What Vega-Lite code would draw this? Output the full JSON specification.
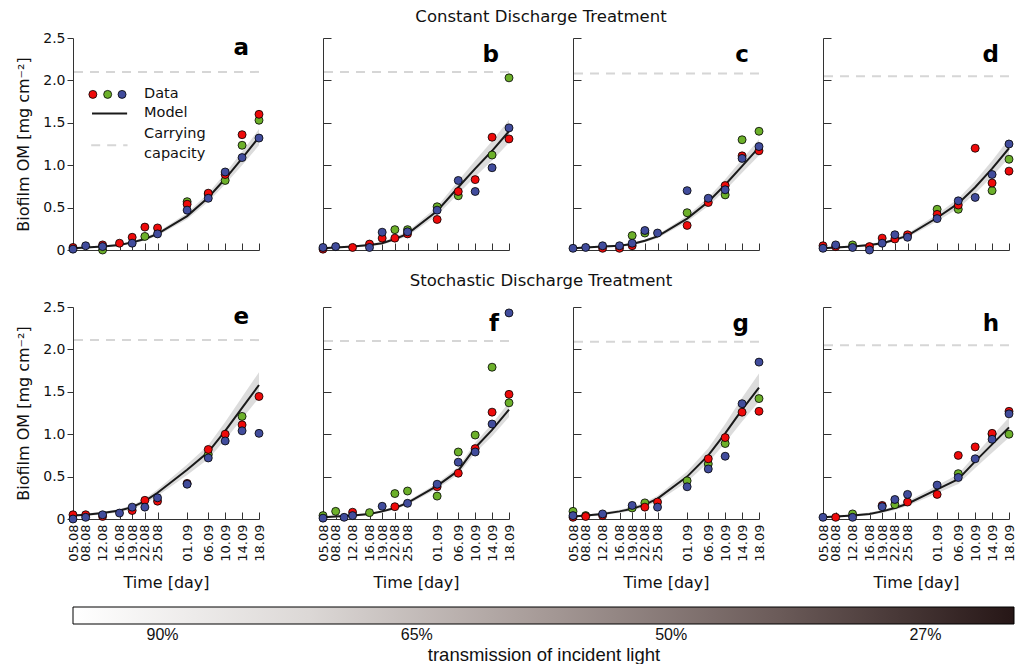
{
"$schema":"https://vega.github.io/schema/vega-lite/v6.json",
"background":"white",
"padding":{"left":15,"top":8,"right":0,"bottom":0},
"autosize":{"type":"pad"},
"config":{
 "font":"DejaVu Sans",
 "view":{"stroke":null},
 "axis":{"grid":false,"domainColor":"#333","tickColor":"#333","labelColor":"#111","titleColor":"#111","labelFont":"DejaVu Sans","titleFont":"DejaVu Sans","titleFontWeight":"normal","domainWidth":1,"tickWidth":1,"labelOverlap":false,"labelFlush":false,"labelBound":false}
},
"datasets":{
"cap":[{"panel":"a","K":2.10},{"panel":"b","K":2.10},{"panel":"c","K":2.08},{"panel":"d","K":2.05},{"panel":"e","K":2.11},{"panel":"f","K":2.10},{"panel":"g","K":2.09},{"panel":"h","K":2.05}],
"model":[
{"panel":"a","day":0,"fit":0.02,"lo":0.009,"hi":0.031},{"panel":"a","day":3,"fit":0.03,"lo":0.018,"hi":0.042},{"panel":"a","day":7,"fit":0.04,"lo":0.027,"hi":0.053},{"panel":"a","day":11,"fit":0.06,"lo":0.046,"hi":0.074},{"panel":"a","day":14,"fit":0.09,"lo":0.074,"hi":0.106},{"panel":"a","day":17,"fit":0.13,"lo":0.111,"hi":0.149},{"panel":"a","day":20,"fit":0.19,"lo":0.168,"hi":0.212},{"panel":"a","day":27,"fit":0.40,"lo":0.364,"hi":0.436},{"panel":"a","day":32,"fit":0.62,"lo":0.570,"hi":0.670},{"panel":"a","day":36,"fit":0.84,"lo":0.775,"hi":0.905},{"panel":"a","day":40,"fit":1.08,"lo":1.000,"hi":1.160},{"panel":"a","day":44,"fit":1.33,"lo":1.234,"hi":1.426},
{"panel":"b","day":0,"fit":0.02,"lo":0.008,"hi":0.032},{"panel":"b","day":3,"fit":0.03,"lo":0.017,"hi":0.043},{"panel":"b","day":7,"fit":0.04,"lo":0.026,"hi":0.054},{"panel":"b","day":11,"fit":0.06,"lo":0.045,"hi":0.075},{"panel":"b","day":14,"fit":0.08,"lo":0.063,"hi":0.097},{"panel":"b","day":17,"fit":0.13,"lo":0.108,"hi":0.152},{"panel":"b","day":20,"fit":0.19,"lo":0.163,"hi":0.217},{"panel":"b","day":27,"fit":0.46,"lo":0.409,"hi":0.511},{"panel":"b","day":32,"fit":0.74,"lo":0.663,"hi":0.817},{"panel":"b","day":36,"fit":0.96,"lo":0.864,"hi":1.056},{"panel":"b","day":40,"fit":1.17,"lo":1.055,"hi":1.285},{"panel":"b","day":44,"fit":1.40,"lo":1.264,"hi":1.536},
{"panel":"c","day":0,"fit":0.02,"lo":0.009,"hi":0.031},{"panel":"c","day":3,"fit":0.03,"lo":0.018,"hi":0.042},{"panel":"c","day":7,"fit":0.04,"lo":0.027,"hi":0.053},{"panel":"c","day":11,"fit":0.05,"lo":0.036,"hi":0.064},{"panel":"c","day":14,"fit":0.07,"lo":0.055,"hi":0.085},{"panel":"c","day":17,"fit":0.11,"lo":0.092,"hi":0.128},{"panel":"c","day":20,"fit":0.16,"lo":0.139,"hi":0.181},{"panel":"c","day":27,"fit":0.37,"lo":0.334,"hi":0.406},{"panel":"c","day":32,"fit":0.57,"lo":0.520,"hi":0.620},{"panel":"c","day":36,"fit":0.77,"lo":0.706,"hi":0.834},{"panel":"c","day":40,"fit":0.99,"lo":0.911,"hi":1.069},{"panel":"c","day":44,"fit":1.21,"lo":1.115,"hi":1.305},
{"panel":"d","day":0,"fit":0.02,"lo":0.008,"hi":0.032},{"panel":"d","day":3,"fit":0.03,"lo":0.017,"hi":0.043},{"panel":"d","day":7,"fit":0.04,"lo":0.027,"hi":0.053},{"panel":"d","day":11,"fit":0.06,"lo":0.045,"hi":0.075},{"panel":"d","day":14,"fit":0.08,"lo":0.063,"hi":0.097},{"panel":"d","day":17,"fit":0.12,"lo":0.100,"hi":0.140},{"panel":"d","day":20,"fit":0.17,"lo":0.146,"hi":0.194},{"panel":"d","day":27,"fit":0.38,"lo":0.338,"hi":0.422},{"panel":"d","day":32,"fit":0.55,"lo":0.493,"hi":0.607},{"panel":"d","day":36,"fit":0.74,"lo":0.667,"hi":0.813},{"panel":"d","day":40,"fit":0.96,"lo":0.868,"hi":1.052},{"panel":"d","day":44,"fit":1.20,"lo":1.088,"hi":1.312},
{"panel":"e","day":0,"fit":0.04,"lo":0.026,"hi":0.054},{"panel":"e","day":3,"fit":0.05,"lo":0.036,"hi":0.064},{"panel":"e","day":7,"fit":0.07,"lo":0.054,"hi":0.086},{"panel":"e","day":11,"fit":0.10,"lo":0.081,"hi":0.119},{"panel":"e","day":14,"fit":0.14,"lo":0.117,"hi":0.163},{"panel":"e","day":17,"fit":0.21,"lo":0.181,"hi":0.239},{"panel":"e","day":20,"fit":0.31,"lo":0.272,"hi":0.348},{"panel":"e","day":27,"fit":0.58,"lo":0.518,"hi":0.642},{"panel":"e","day":32,"fit":0.79,"lo":0.709,"hi":0.871},{"panel":"e","day":36,"fit":1.04,"lo":0.936,"hi":1.144},{"panel":"e","day":40,"fit":1.31,"lo":1.182,"hi":1.438},{"panel":"e","day":44,"fit":1.58,"lo":1.428,"hi":1.732},
{"panel":"f","day":0,"fit":0.02,"lo":0.009,"hi":0.031},{"panel":"f","day":3,"fit":0.03,"lo":0.018,"hi":0.042},{"panel":"f","day":7,"fit":0.04,"lo":0.028,"hi":0.052},{"panel":"f","day":11,"fit":0.06,"lo":0.046,"hi":0.074},{"panel":"f","day":14,"fit":0.09,"lo":0.075,"hi":0.105},{"panel":"f","day":17,"fit":0.13,"lo":0.112,"hi":0.148},{"panel":"f","day":20,"fit":0.19,"lo":0.169,"hi":0.211},{"panel":"f","day":27,"fit":0.39,"lo":0.357,"hi":0.423},{"panel":"f","day":32,"fit":0.57,"lo":0.526,"hi":0.614},{"panel":"f","day":36,"fit":0.84,"lo":0.780,"hi":0.900},{"panel":"f","day":40,"fit":1.05,"lo":0.977,"hi":1.123},{"panel":"f","day":44,"fit":1.29,"lo":1.203,"hi":1.377},
{"panel":"g","day":0,"fit":0.03,"lo":0.017,"hi":0.043},{"panel":"g","day":3,"fit":0.04,"lo":0.026,"hi":0.054},{"panel":"g","day":7,"fit":0.06,"lo":0.044,"hi":0.076},{"panel":"g","day":11,"fit":0.09,"lo":0.071,"hi":0.109},{"panel":"g","day":14,"fit":0.12,"lo":0.098,"hi":0.142},{"panel":"g","day":17,"fit":0.17,"lo":0.143,"hi":0.197},{"panel":"g","day":20,"fit":0.24,"lo":0.206,"hi":0.274},{"panel":"g","day":27,"fit":0.50,"lo":0.440,"hi":0.560},{"panel":"g","day":32,"fit":0.75,"lo":0.665,"hi":0.835},{"panel":"g","day":36,"fit":1.01,"lo":0.899,"hi":1.121},{"panel":"g","day":40,"fit":1.29,"lo":1.151,"hi":1.429},{"panel":"g","day":44,"fit":1.55,"lo":1.385,"hi":1.715},
{"panel":"h","day":0,"fit":0.02,"lo":0.008,"hi":0.032},{"panel":"h","day":3,"fit":0.03,"lo":0.017,"hi":0.043},{"panel":"h","day":7,"fit":0.04,"lo":0.026,"hi":0.054},{"panel":"h","day":11,"fit":0.06,"lo":0.044,"hi":0.076},{"panel":"h","day":14,"fit":0.09,"lo":0.071,"hi":0.109},{"panel":"h","day":17,"fit":0.13,"lo":0.107,"hi":0.153},{"panel":"h","day":20,"fit":0.18,"lo":0.152,"hi":0.208},{"panel":"h","day":27,"fit":0.35,"lo":0.305,"hi":0.395},{"panel":"h","day":32,"fit":0.47,"lo":0.413,"hi":0.527},{"panel":"h","day":36,"fit":0.68,"lo":0.602,"hi":0.758},{"panel":"h","day":40,"fit":0.88,"lo":0.782,"hi":0.978},{"panel":"h","day":44,"fit":1.08,"lo":0.962,"hi":1.198}
],
"obs":[
{"panel":"a","rep":"G","day":7,"om":0.0},{"panel":"a","rep":"G","day":17,"om":0.16},{"panel":"a","rep":"G","day":27,"om":0.57},{"panel":"a","rep":"G","day":32,"om":0.66},{"panel":"a","rep":"G","day":36,"om":0.82},{"panel":"a","rep":"G","day":40,"om":1.235},{"panel":"a","rep":"G","day":44,"om":1.53},
{"panel":"a","rep":"R","day":0,"om":0.03},{"panel":"a","rep":"R","day":7,"om":0.06},{"panel":"a","rep":"R","day":11,"om":0.08},{"panel":"a","rep":"R","day":14,"om":0.15},{"panel":"a","rep":"R","day":17,"om":0.27},{"panel":"a","rep":"R","day":20,"om":0.26},{"panel":"a","rep":"R","day":27,"om":0.54},{"panel":"a","rep":"R","day":32,"om":0.67},{"panel":"a","rep":"R","day":36,"om":0.89},{"panel":"a","rep":"R","day":40,"om":1.36},{"panel":"a","rep":"R","day":44,"om":1.60},
{"panel":"a","rep":"B","day":0,"om":0.01},{"panel":"a","rep":"B","day":3,"om":0.05},{"panel":"a","rep":"B","day":7,"om":0.04},{"panel":"a","rep":"B","day":14,"om":0.08},{"panel":"a","rep":"B","day":20,"om":0.19},{"panel":"a","rep":"B","day":27,"om":0.47},{"panel":"a","rep":"B","day":32,"om":0.61},{"panel":"a","rep":"B","day":36,"om":0.92},{"panel":"a","rep":"B","day":40,"om":1.09},{"panel":"a","rep":"B","day":44,"om":1.32},
{"panel":"b","rep":"G","day":17,"om":0.24},{"panel":"b","rep":"G","day":20,"om":0.24},{"panel":"b","rep":"G","day":27,"om":0.51},{"panel":"b","rep":"G","day":32,"om":0.64},{"panel":"b","rep":"G","day":40,"om":1.12},{"panel":"b","rep":"G","day":44,"om":2.03},
{"panel":"b","rep":"R","day":0,"om":0.01},{"panel":"b","rep":"R","day":7,"om":0.03},{"panel":"b","rep":"R","day":11,"om":0.07},{"panel":"b","rep":"R","day":14,"om":0.14},{"panel":"b","rep":"R","day":17,"om":0.14},{"panel":"b","rep":"R","day":20,"om":0.19},{"panel":"b","rep":"R","day":27,"om":0.36},{"panel":"b","rep":"R","day":32,"om":0.69},{"panel":"b","rep":"R","day":36,"om":0.83},{"panel":"b","rep":"R","day":40,"om":1.33},{"panel":"b","rep":"R","day":44,"om":1.31},
{"panel":"b","rep":"B","day":0,"om":0.03},{"panel":"b","rep":"B","day":3,"om":0.04},{"panel":"b","rep":"B","day":11,"om":0.03},{"panel":"b","rep":"B","day":14,"om":0.21},{"panel":"b","rep":"B","day":20,"om":0.215},{"panel":"b","rep":"B","day":27,"om":0.47},{"panel":"b","rep":"B","day":32,"om":0.82},{"panel":"b","rep":"B","day":36,"om":0.69},{"panel":"b","rep":"B","day":40,"om":0.97},{"panel":"b","rep":"B","day":44,"om":1.44},
{"panel":"c","rep":"G","day":14,"om":0.17},{"panel":"c","rep":"G","day":17,"om":0.20},{"panel":"c","rep":"G","day":27,"om":0.44},{"panel":"c","rep":"G","day":36,"om":0.65},{"panel":"c","rep":"G","day":40,"om":1.30},{"panel":"c","rep":"G","day":44,"om":1.40},
{"panel":"c","rep":"R","day":7,"om":0.02},{"panel":"c","rep":"R","day":11,"om":0.02},{"panel":"c","rep":"R","day":14,"om":0.05},{"panel":"c","rep":"R","day":27,"om":0.29},{"panel":"c","rep":"R","day":32,"om":0.56},{"panel":"c","rep":"R","day":36,"om":0.76},{"panel":"c","rep":"R","day":40,"om":1.11},{"panel":"c","rep":"R","day":44,"om":1.17},
{"panel":"c","rep":"B","day":0,"om":0.02},{"panel":"c","rep":"B","day":3,"om":0.03},{"panel":"c","rep":"B","day":7,"om":0.05},{"panel":"c","rep":"B","day":11,"om":0.05},{"panel":"c","rep":"B","day":14,"om":0.08},{"panel":"c","rep":"B","day":17,"om":0.23},{"panel":"c","rep":"B","day":20,"om":0.20},{"panel":"c","rep":"B","day":27,"om":0.70},{"panel":"c","rep":"B","day":32,"om":0.61},{"panel":"c","rep":"B","day":36,"om":0.71},{"panel":"c","rep":"B","day":40,"om":1.08},{"panel":"c","rep":"B","day":44,"om":1.22},
{"panel":"d","rep":"G","day":7,"om":0.06},{"panel":"d","rep":"G","day":27,"om":0.48},{"panel":"d","rep":"G","day":32,"om":0.48},{"panel":"d","rep":"G","day":40,"om":0.70},{"panel":"d","rep":"G","day":44,"om":1.07},
{"panel":"d","rep":"R","day":0,"om":0.05},{"panel":"d","rep":"R","day":3,"om":0.04},{"panel":"d","rep":"R","day":11,"om":0.04},{"panel":"d","rep":"R","day":14,"om":0.14},{"panel":"d","rep":"R","day":17,"om":0.13},{"panel":"d","rep":"R","day":20,"om":0.18},{"panel":"d","rep":"R","day":27,"om":0.42},{"panel":"d","rep":"R","day":32,"om":0.53},{"panel":"d","rep":"R","day":36,"om":1.20},{"panel":"d","rep":"R","day":40,"om":0.79},{"panel":"d","rep":"R","day":44,"om":0.93},
{"panel":"d","rep":"B","day":0,"om":0.02},{"panel":"d","rep":"B","day":3,"om":0.06},{"panel":"d","rep":"B","day":7,"om":0.03},{"panel":"d","rep":"B","day":11,"om":0.0},{"panel":"d","rep":"B","day":14,"om":0.08},{"panel":"d","rep":"B","day":17,"om":0.18},{"panel":"d","rep":"B","day":20,"om":0.15},{"panel":"d","rep":"B","day":27,"om":0.37},{"panel":"d","rep":"B","day":32,"om":0.58},{"panel":"d","rep":"B","day":36,"om":0.62},{"panel":"d","rep":"B","day":40,"om":0.89},{"panel":"d","rep":"B","day":44,"om":1.25},
{"panel":"e","rep":"G","day":32,"om":0.76},{"panel":"e","rep":"G","day":40,"om":1.21},
{"panel":"e","rep":"R","day":0,"om":0.05},{"panel":"e","rep":"R","day":3,"om":0.05},{"panel":"e","rep":"R","day":7,"om":0.03},{"panel":"e","rep":"R","day":14,"om":0.10},{"panel":"e","rep":"R","day":17,"om":0.22},{"panel":"e","rep":"R","day":20,"om":0.21},{"panel":"e","rep":"R","day":27,"om":0.42},{"panel":"e","rep":"R","day":32,"om":0.82},{"panel":"e","rep":"R","day":36,"om":1.00},{"panel":"e","rep":"R","day":40,"om":1.11},{"panel":"e","rep":"R","day":44,"om":1.445},
{"panel":"e","rep":"B","day":0,"om":0.0},{"panel":"e","rep":"B","day":3,"om":0.02},{"panel":"e","rep":"B","day":7,"om":0.05},{"panel":"e","rep":"B","day":11,"om":0.07},{"panel":"e","rep":"B","day":14,"om":0.14},{"panel":"e","rep":"B","day":17,"om":0.14},{"panel":"e","rep":"B","day":20,"om":0.25},{"panel":"e","rep":"B","day":27,"om":0.41},{"panel":"e","rep":"B","day":32,"om":0.72},{"panel":"e","rep":"B","day":36,"om":0.92},{"panel":"e","rep":"B","day":40,"om":1.04},{"panel":"e","rep":"B","day":44,"om":1.01},
{"panel":"f","rep":"R","day":7,"om":0.08},{"panel":"f","rep":"R","day":17,"om":0.145},{"panel":"f","rep":"R","day":27,"om":0.38},{"panel":"f","rep":"R","day":32,"om":0.54},{"panel":"f","rep":"R","day":36,"om":0.83},{"panel":"f","rep":"R","day":40,"om":1.26},{"panel":"f","rep":"R","day":44,"om":1.47},
{"panel":"f","rep":"G","day":0,"om":0.04},{"panel":"f","rep":"G","day":3,"om":0.09},{"panel":"f","rep":"G","day":11,"om":0.075},{"panel":"f","rep":"G","day":17,"om":0.30},{"panel":"f","rep":"G","day":20,"om":0.33},{"panel":"f","rep":"G","day":27,"om":0.27},{"panel":"f","rep":"G","day":32,"om":0.79},{"panel":"f","rep":"G","day":36,"om":0.99},{"panel":"f","rep":"G","day":40,"om":1.79},{"panel":"f","rep":"G","day":44,"om":1.37},
{"panel":"f","rep":"B","day":0,"om":0.01},{"panel":"f","rep":"B","day":5,"om":0.02},{"panel":"f","rep":"B","day":7,"om":0.04},{"panel":"f","rep":"B","day":14,"om":0.15},{"panel":"f","rep":"B","day":20,"om":0.185},{"panel":"f","rep":"B","day":27,"om":0.41},{"panel":"f","rep":"B","day":32,"om":0.67},{"panel":"f","rep":"B","day":36,"om":0.79},{"panel":"f","rep":"B","day":40,"om":1.12},{"panel":"f","rep":"B","day":44,"om":2.43},
{"panel":"g","rep":"G","day":0,"om":0.09},{"panel":"g","rep":"G","day":3,"om":0.04},{"panel":"g","rep":"G","day":14,"om":0.13},{"panel":"g","rep":"G","day":17,"om":0.19},{"panel":"g","rep":"G","day":27,"om":0.45},{"panel":"g","rep":"G","day":32,"om":0.65},{"panel":"g","rep":"G","day":36,"om":0.89},{"panel":"g","rep":"G","day":44,"om":1.42},
{"panel":"g","rep":"R","day":0,"om":0.02},{"panel":"g","rep":"R","day":3,"om":0.03},{"panel":"g","rep":"R","day":7,"om":0.04},{"panel":"g","rep":"R","day":17,"om":0.14},{"panel":"g","rep":"R","day":20,"om":0.20},{"panel":"g","rep":"R","day":32,"om":0.71},{"panel":"g","rep":"R","day":36,"om":0.96},{"panel":"g","rep":"R","day":40,"om":1.26},{"panel":"g","rep":"R","day":44,"om":1.27},
{"panel":"g","rep":"B","day":0,"om":0.04},{"panel":"g","rep":"B","day":7,"om":0.06},{"panel":"g","rep":"B","day":14,"om":0.16},{"panel":"g","rep":"B","day":20,"om":0.14},{"panel":"g","rep":"B","day":27,"om":0.38},{"panel":"g","rep":"B","day":32,"om":0.59},{"panel":"g","rep":"B","day":36,"om":0.74},{"panel":"g","rep":"B","day":40,"om":1.36},{"panel":"g","rep":"B","day":44,"om":1.85},
{"panel":"h","rep":"G","day":7,"om":0.06},{"panel":"h","rep":"G","day":17,"om":0.17},{"panel":"h","rep":"G","day":32,"om":0.535},{"panel":"h","rep":"G","day":40,"om":1.00},{"panel":"h","rep":"G","day":44,"om":1.00},
{"panel":"h","rep":"R","day":3,"om":0.02},{"panel":"h","rep":"R","day":14,"om":0.16},{"panel":"h","rep":"R","day":20,"om":0.20},{"panel":"h","rep":"R","day":27,"om":0.29},{"panel":"h","rep":"R","day":32,"om":0.75},{"panel":"h","rep":"R","day":36,"om":0.85},{"panel":"h","rep":"R","day":40,"om":1.01},{"panel":"h","rep":"R","day":44,"om":1.27},
{"panel":"h","rep":"B","day":0,"om":0.02},{"panel":"h","rep":"B","day":7,"om":0.02},{"panel":"h","rep":"B","day":14,"om":0.145},{"panel":"h","rep":"B","day":17,"om":0.23},{"panel":"h","rep":"B","day":20,"om":0.29},{"panel":"h","rep":"B","day":27,"om":0.40},{"panel":"h","rep":"B","day":32,"om":0.49},{"panel":"h","rep":"B","day":36,"om":0.71},{"panel":"h","rep":"B","day":40,"om":0.94},{"panel":"h","rep":"B","day":44,"om":1.24}
]
},
"spacing":15,
"vconcat":[
 {"bounds":"flush","spacing":64,
  "title":{"text":"Constant Discharge Treatment","anchor":"start","align":"center","dx":468,"frame":"group","fontSize":16.5,"fontWeight":"normal","font":"DejaVu Sans","color":"#111","offset":6},
  "hconcat":[
  {"width":186,"height":212,
   "title":{"text":"a","anchor":"end","frame":"group","fontSize":23,"fontWeight":"bold","font":"DejaVu Sans","color":"#000","offset":-29,"dx":-10},
   "layer":[
    {"data":{"name":"model"},"transform":[{"filter":"datum.panel == 'a'"}],"mark":{"type":"area","color":"#dcdcdc"},
     "encoding":{"x":{"field":"day","type":"quantitative","scale":{"domain":[0,44],"nice":false,"zero":false},"axis":{"values":[0,3,7,11,14,17,20,27,32,36,40,44],"tickCount":50,"labels":false,"title":null,"tickSize":-7}},
      "y":{"field":"lo","type":"quantitative","scale":{"domain":[0,2.5],"nice":false},"axis":{"values":[0,0.5,1,1.5,2,2.5],"tickCount":50,"labelExpr":"datum.value == 0 ? '0' : format(datum.value, '.1f')","labelOverlap":false,"labelFontSize":14,"labelPadding":2,"tickSize":6,"title":"Biofilm OM [mg cm⁻²]","titleFontSize":16,"titlePadding":11}},
      "y2":{"field":"hi"}}},
    {"data":{"name":"cap"},"transform":[{"filter":"datum.panel == 'a'"}],"mark":{"type":"rule","color":"#d6d6d6","strokeWidth":2,"strokeDash":[9,7]},
     "encoding":{"y":{"field":"K","type":"quantitative","scale":{"domain":[0,2.5],"nice":false}}}},
    {"data":{"name":"model"},"transform":[{"filter":"datum.panel == 'a'"}],"mark":{"type":"line","color":"#1a1a1a","strokeWidth":2},
     "encoding":{"x":{"field":"day","type":"quantitative","scale":{"domain":[0,44],"nice":false,"zero":false}},"y":{"field":"fit","type":"quantitative","scale":{"domain":[0,2.5],"nice":false}}}},
    {"data":{"name":"obs"},"transform":[{"filter":"datum.panel == 'a'"}],"mark":{"type":"circle","size":64,"stroke":"#000","strokeWidth":0.8,"opacity":1},
     "encoding":{"x":{"field":"day","type":"quantitative","scale":{"domain":[0,44],"nice":false,"zero":false}},"y":{"field":"om","type":"quantitative","scale":{"domain":[0,2.5],"nice":false}},
      "fill":{"field":"rep","type":"nominal","scale":{"domain":["R","G","B"],"range":["#ee0a0a","#6cb02a","#414c9c"]},"legend":null}}},
    {"data":{"values":[{"rep":"R","day":4.7},{"rep":"G","day":8.2},{"rep":"B","day":11.6}]},"mark":{"type":"circle","size":64,"stroke":"#000","strokeWidth":0.8,"opacity":1},
     "encoding":{"x":{"field":"day","type":"quantitative","scale":{"domain":[0,44],"nice":false,"zero":false}},"y":{"datum":1.835,"type":"quantitative","scale":{"domain":[0,2.5],"nice":false}},
      "fill":{"field":"rep","type":"nominal","scale":{"domain":["R","G","B"],"range":["#ee0a0a","#6cb02a","#414c9c"]},"legend":null}}},
    {"data":{"values":[{}]},"mark":{"type":"rule","color":"#1a1a1a","strokeWidth":2},
     "encoding":{"x":{"datum":4.5,"type":"quantitative","scale":{"domain":[0,44],"nice":false,"zero":false}},"x2":{"datum":12.8},"y":{"datum":1.61,"type":"quantitative","scale":{"domain":[0,2.5],"nice":false}}}},
    {"data":{"values":[{}]},"mark":{"type":"rule","color":"#d6d6d6","strokeWidth":2,"strokeDash":[9,7]},
     "encoding":{"x":{"datum":4.3,"type":"quantitative","scale":{"domain":[0,44],"nice":false,"zero":false}},"x2":{"datum":12.9},"y":{"datum":1.235,"type":"quantitative","scale":{"domain":[0,2.5],"nice":false}}}},
    {"data":{"values":[{"label":"Data","v":1.835},{"label":"Model","v":1.61},{"label":"Carrying","v":1.37},{"label":"capacity","v":1.13}]},"mark":{"type":"text","align":"left","baseline":"middle","fontSize":14.5,"font":"DejaVu Sans","color":"#111"},
     "encoding":{"x":{"datum":16.8,"type":"quantitative","scale":{"domain":[0,44],"nice":false,"zero":false}},"y":{"field":"v","type":"quantitative","scale":{"domain":[0,2.5],"nice":false}},"text":{"field":"label"}}}
   ]},
  {"width":186,"height":212,
   "title":{"text":"b","anchor":"end","frame":"group","fontSize":23,"fontWeight":"bold","font":"DejaVu Sans","color":"#000","offset":-29,"dx":-10},
   "layer":[
    {"data":{"name":"model"},"transform":[{"filter":"datum.panel == 'b'"}],"mark":{"type":"area","color":"#dcdcdc"},
     "encoding":{"x":{"field":"day","type":"quantitative","scale":{"domain":[0,44],"nice":false,"zero":false},"axis":{"values":[0,3,7,11,14,17,20,27,32,36,40,44],"tickCount":50,"labels":false,"title":null,"tickSize":-7}},
      "y":{"field":"lo","type":"quantitative","scale":{"domain":[0,2.5],"nice":false},"axis":{"values":[0,0.5,1,1.5,2,2.5],"tickCount":50,"labels":false,"title":null,"tickSize":-8}},
      "y2":{"field":"hi"}}},
    {"data":{"name":"cap"},"transform":[{"filter":"datum.panel == 'b'"}],"mark":{"type":"rule","color":"#d6d6d6","strokeWidth":2,"strokeDash":[9,7]},
     "encoding":{"y":{"field":"K","type":"quantitative","scale":{"domain":[0,2.5],"nice":false}}}},
    {"data":{"name":"model"},"transform":[{"filter":"datum.panel == 'b'"}],"mark":{"type":"line","color":"#1a1a1a","strokeWidth":2},
     "encoding":{"x":{"field":"day","type":"quantitative","scale":{"domain":[0,44],"nice":false,"zero":false}},"y":{"field":"fit","type":"quantitative","scale":{"domain":[0,2.5],"nice":false}}}},
    {"data":{"name":"obs"},"transform":[{"filter":"datum.panel == 'b'"}],"mark":{"type":"circle","size":64,"stroke":"#000","strokeWidth":0.8,"opacity":1},
     "encoding":{"x":{"field":"day","type":"quantitative","scale":{"domain":[0,44],"nice":false,"zero":false}},"y":{"field":"om","type":"quantitative","scale":{"domain":[0,2.5],"nice":false}},
      "fill":{"field":"rep","type":"nominal","scale":{"domain":["R","G","B"],"range":["#ee0a0a","#6cb02a","#414c9c"]},"legend":null}}}
   ]},
  {"width":186,"height":212,
   "title":{"text":"c","anchor":"end","frame":"group","fontSize":23,"fontWeight":"bold","font":"DejaVu Sans","color":"#000","offset":-29,"dx":-10},
   "layer":[
    {"data":{"name":"model"},"transform":[{"filter":"datum.panel == 'c'"}],"mark":{"type":"area","color":"#dcdcdc"},
     "encoding":{"x":{"field":"day","type":"quantitative","scale":{"domain":[0,44],"nice":false,"zero":false},"axis":{"values":[0,3,7,11,14,17,20,27,32,36,40,44],"tickCount":50,"labels":false,"title":null,"tickSize":-7}},
      "y":{"field":"lo","type":"quantitative","scale":{"domain":[0,2.5],"nice":false},"axis":{"values":[0,0.5,1,1.5,2,2.5],"tickCount":50,"labels":false,"title":null,"tickSize":-8}},
      "y2":{"field":"hi"}}},
    {"data":{"name":"cap"},"transform":[{"filter":"datum.panel == 'c'"}],"mark":{"type":"rule","color":"#d6d6d6","strokeWidth":2,"strokeDash":[9,7]},
     "encoding":{"y":{"field":"K","type":"quantitative","scale":{"domain":[0,2.5],"nice":false}}}},
    {"data":{"name":"model"},"transform":[{"filter":"datum.panel == 'c'"}],"mark":{"type":"line","color":"#1a1a1a","strokeWidth":2},
     "encoding":{"x":{"field":"day","type":"quantitative","scale":{"domain":[0,44],"nice":false,"zero":false}},"y":{"field":"fit","type":"quantitative","scale":{"domain":[0,2.5],"nice":false}}}},
    {"data":{"name":"obs"},"transform":[{"filter":"datum.panel == 'c'"}],"mark":{"type":"circle","size":64,"stroke":"#000","strokeWidth":0.8,"opacity":1},
     "encoding":{"x":{"field":"day","type":"quantitative","scale":{"domain":[0,44],"nice":false,"zero":false}},"y":{"field":"om","type":"quantitative","scale":{"domain":[0,2.5],"nice":false}},
      "fill":{"field":"rep","type":"nominal","scale":{"domain":["R","G","B"],"range":["#ee0a0a","#6cb02a","#414c9c"]},"legend":null}}}
   ]},
  {"width":186,"height":212,
   "title":{"text":"d","anchor":"end","frame":"group","fontSize":23,"fontWeight":"bold","font":"DejaVu Sans","color":"#000","offset":-29,"dx":-10},
   "layer":[
    {"data":{"name":"model"},"transform":[{"filter":"datum.panel == 'd'"}],"mark":{"type":"area","color":"#dcdcdc"},
     "encoding":{"x":{"field":"day","type":"quantitative","scale":{"domain":[0,44],"nice":false,"zero":false},"axis":{"values":[0,3,7,11,14,17,20,27,32,36,40,44],"tickCount":50,"labels":false,"title":null,"tickSize":-7}},
      "y":{"field":"lo","type":"quantitative","scale":{"domain":[0,2.5],"nice":false},"axis":{"values":[0,0.5,1,1.5,2,2.5],"tickCount":50,"labels":false,"title":null,"tickSize":-8}},
      "y2":{"field":"hi"}}},
    {"data":{"name":"cap"},"transform":[{"filter":"datum.panel == 'd'"}],"mark":{"type":"rule","color":"#d6d6d6","strokeWidth":2,"strokeDash":[9,7]},
     "encoding":{"y":{"field":"K","type":"quantitative","scale":{"domain":[0,2.5],"nice":false}}}},
    {"data":{"name":"model"},"transform":[{"filter":"datum.panel == 'd'"}],"mark":{"type":"line","color":"#1a1a1a","strokeWidth":2},
     "encoding":{"x":{"field":"day","type":"quantitative","scale":{"domain":[0,44],"nice":false,"zero":false}},"y":{"field":"fit","type":"quantitative","scale":{"domain":[0,2.5],"nice":false}}}},
    {"data":{"name":"obs"},"transform":[{"filter":"datum.panel == 'd'"}],"mark":{"type":"circle","size":64,"stroke":"#000","strokeWidth":0.8,"opacity":1},
     "encoding":{"x":{"field":"day","type":"quantitative","scale":{"domain":[0,44],"nice":false,"zero":false}},"y":{"field":"om","type":"quantitative","scale":{"domain":[0,2.5],"nice":false}},
      "fill":{"field":"rep","type":"nominal","scale":{"domain":["R","G","B"],"range":["#ee0a0a","#6cb02a","#414c9c"]},"legend":null}}}
   ]}
  ]},
 {"bounds":"flush","spacing":64,
  "title":{"text":"Stochastic Discharge Treatment","anchor":"start","align":"center","dx":468,"frame":"group","fontSize":16.5,"fontWeight":"normal","font":"DejaVu Sans","color":"#111","offset":11},
  "hconcat":[
  {"width":186,"height":212,
   "title":{"text":"e","anchor":"end","frame":"group","fontSize":23,"fontWeight":"bold","font":"DejaVu Sans","color":"#000","offset":-29,"dx":-10},
   "layer":[
    {"data":{"name":"model"},"transform":[{"filter":"datum.panel == 'e'"}],"mark":{"type":"area","color":"#dcdcdc"},
     "encoding":{"x":{"field":"day","type":"quantitative","scale":{"domain":[0,44],"nice":false,"zero":false},"axis":{"values":[0,3,7,11,14,17,20,27,32,36,40,44],"tickCount":50,"labelExpr":"['05.08','08.08','12.08','16.08','19.08','22.08','25.08','01.09','06.09','10.09','14.09','18.09'][indexof([0,3,7,11,14,17,20,27,32,36,40,44], datum.value)]","labelOverlap":false,"labelAngle":-90,"labelFontSize":13,"labelPadding":12,"tickSize":-7,"title":"Time [day]","titleFontSize":16,"titlePadding":13}},
      "y":{"field":"lo","type":"quantitative","scale":{"domain":[0,2.5],"nice":false},"axis":{"values":[0,0.5,1,1.5,2,2.5],"tickCount":50,"labelExpr":"datum.value == 0 ? '0' : format(datum.value, '.1f')","labelOverlap":false,"labelFontSize":14,"labelPadding":2,"tickSize":6,"title":"Biofilm OM [mg cm⁻²]","titleFontSize":16,"titlePadding":11}},
      "y2":{"field":"hi"}}},
    {"data":{"name":"cap"},"transform":[{"filter":"datum.panel == 'e'"}],"mark":{"type":"rule","color":"#d6d6d6","strokeWidth":2,"strokeDash":[9,7]},
     "encoding":{"y":{"field":"K","type":"quantitative","scale":{"domain":[0,2.5],"nice":false}}}},
    {"data":{"name":"model"},"transform":[{"filter":"datum.panel == 'e'"}],"mark":{"type":"line","color":"#1a1a1a","strokeWidth":2},
     "encoding":{"x":{"field":"day","type":"quantitative","scale":{"domain":[0,44],"nice":false,"zero":false}},"y":{"field":"fit","type":"quantitative","scale":{"domain":[0,2.5],"nice":false}}}},
    {"data":{"name":"obs"},"transform":[{"filter":"datum.panel == 'e'"}],"mark":{"type":"circle","size":64,"stroke":"#000","strokeWidth":0.8,"opacity":1},
     "encoding":{"x":{"field":"day","type":"quantitative","scale":{"domain":[0,44],"nice":false,"zero":false}},"y":{"field":"om","type":"quantitative","scale":{"domain":[0,2.5],"nice":false}},
      "fill":{"field":"rep","type":"nominal","scale":{"domain":["R","G","B"],"range":["#ee0a0a","#6cb02a","#414c9c"]},"legend":null}}}
   ]},
  {"width":186,"height":212,
   "title":{"text":"f","anchor":"end","frame":"group","fontSize":23,"fontWeight":"bold","font":"DejaVu Sans","color":"#000","offset":-29,"dx":-10},
   "layer":[
    {"data":{"name":"model"},"transform":[{"filter":"datum.panel == 'f'"}],"mark":{"type":"area","color":"#dcdcdc"},
     "encoding":{"x":{"field":"day","type":"quantitative","scale":{"domain":[0,44],"nice":false,"zero":false},"axis":{"values":[0,3,7,11,14,17,20,27,32,36,40,44],"tickCount":50,"labelExpr":"['05.08','08.08','12.08','16.08','19.08','22.08','25.08','01.09','06.09','10.09','14.09','18.09'][indexof([0,3,7,11,14,17,20,27,32,36,40,44], datum.value)]","labelOverlap":false,"labelAngle":-90,"labelFontSize":13,"labelPadding":12,"tickSize":-7,"title":"Time [day]","titleFontSize":16,"titlePadding":13}},
      "y":{"field":"lo","type":"quantitative","scale":{"domain":[0,2.5],"nice":false},"axis":{"values":[0,0.5,1,1.5,2,2.5],"tickCount":50,"labels":false,"title":null,"tickSize":-8}},
      "y2":{"field":"hi"}}},
    {"data":{"name":"cap"},"transform":[{"filter":"datum.panel == 'f'"}],"mark":{"type":"rule","color":"#d6d6d6","strokeWidth":2,"strokeDash":[9,7]},
     "encoding":{"y":{"field":"K","type":"quantitative","scale":{"domain":[0,2.5],"nice":false}}}},
    {"data":{"name":"model"},"transform":[{"filter":"datum.panel == 'f'"}],"mark":{"type":"line","color":"#1a1a1a","strokeWidth":2},
     "encoding":{"x":{"field":"day","type":"quantitative","scale":{"domain":[0,44],"nice":false,"zero":false}},"y":{"field":"fit","type":"quantitative","scale":{"domain":[0,2.5],"nice":false}}}},
    {"data":{"name":"obs"},"transform":[{"filter":"datum.panel == 'f'"}],"mark":{"type":"circle","size":64,"stroke":"#000","strokeWidth":0.8,"opacity":1},
     "encoding":{"x":{"field":"day","type":"quantitative","scale":{"domain":[0,44],"nice":false,"zero":false}},"y":{"field":"om","type":"quantitative","scale":{"domain":[0,2.5],"nice":false}},
      "fill":{"field":"rep","type":"nominal","scale":{"domain":["R","G","B"],"range":["#ee0a0a","#6cb02a","#414c9c"]},"legend":null}}}
   ]},
  {"width":186,"height":212,
   "title":{"text":"g","anchor":"end","frame":"group","fontSize":23,"fontWeight":"bold","font":"DejaVu Sans","color":"#000","offset":-29,"dx":-10},
   "layer":[
    {"data":{"name":"model"},"transform":[{"filter":"datum.panel == 'g'"}],"mark":{"type":"area","color":"#dcdcdc"},
     "encoding":{"x":{"field":"day","type":"quantitative","scale":{"domain":[0,44],"nice":false,"zero":false},"axis":{"values":[0,3,7,11,14,17,20,27,32,36,40,44],"tickCount":50,"labelExpr":"['05.08','08.08','12.08','16.08','19.08','22.08','25.08','01.09','06.09','10.09','14.09','18.09'][indexof([0,3,7,11,14,17,20,27,32,36,40,44], datum.value)]","labelOverlap":false,"labelAngle":-90,"labelFontSize":13,"labelPadding":12,"tickSize":-7,"title":"Time [day]","titleFontSize":16,"titlePadding":13}},
      "y":{"field":"lo","type":"quantitative","scale":{"domain":[0,2.5],"nice":false},"axis":{"values":[0,0.5,1,1.5,2,2.5],"tickCount":50,"labels":false,"title":null,"tickSize":-8}},
      "y2":{"field":"hi"}}},
    {"data":{"name":"cap"},"transform":[{"filter":"datum.panel == 'g'"}],"mark":{"type":"rule","color":"#d6d6d6","strokeWidth":2,"strokeDash":[9,7]},
     "encoding":{"y":{"field":"K","type":"quantitative","scale":{"domain":[0,2.5],"nice":false}}}},
    {"data":{"name":"model"},"transform":[{"filter":"datum.panel == 'g'"}],"mark":{"type":"line","color":"#1a1a1a","strokeWidth":2},
     "encoding":{"x":{"field":"day","type":"quantitative","scale":{"domain":[0,44],"nice":false,"zero":false}},"y":{"field":"fit","type":"quantitative","scale":{"domain":[0,2.5],"nice":false}}}},
    {"data":{"name":"obs"},"transform":[{"filter":"datum.panel == 'g'"}],"mark":{"type":"circle","size":64,"stroke":"#000","strokeWidth":0.8,"opacity":1},
     "encoding":{"x":{"field":"day","type":"quantitative","scale":{"domain":[0,44],"nice":false,"zero":false}},"y":{"field":"om","type":"quantitative","scale":{"domain":[0,2.5],"nice":false}},
      "fill":{"field":"rep","type":"nominal","scale":{"domain":["R","G","B"],"range":["#ee0a0a","#6cb02a","#414c9c"]},"legend":null}}}
   ]},
  {"width":186,"height":212,
   "title":{"text":"h","anchor":"end","frame":"group","fontSize":23,"fontWeight":"bold","font":"DejaVu Sans","color":"#000","offset":-29,"dx":-10},
   "layer":[
    {"data":{"name":"model"},"transform":[{"filter":"datum.panel == 'h'"}],"mark":{"type":"area","color":"#dcdcdc"},
     "encoding":{"x":{"field":"day","type":"quantitative","scale":{"domain":[0,44],"nice":false,"zero":false},"axis":{"values":[0,3,7,11,14,17,20,27,32,36,40,44],"tickCount":50,"labelExpr":"['05.08','08.08','12.08','16.08','19.08','22.08','25.08','01.09','06.09','10.09','14.09','18.09'][indexof([0,3,7,11,14,17,20,27,32,36,40,44], datum.value)]","labelOverlap":false,"labelAngle":-90,"labelFontSize":13,"labelPadding":12,"tickSize":-7,"title":"Time [day]","titleFontSize":16,"titlePadding":13}},
      "y":{"field":"lo","type":"quantitative","scale":{"domain":[0,2.5],"nice":false},"axis":{"values":[0,0.5,1,1.5,2,2.5],"tickCount":50,"labels":false,"title":null,"tickSize":-8}},
      "y2":{"field":"hi"}}},
    {"data":{"name":"cap"},"transform":[{"filter":"datum.panel == 'h'"}],"mark":{"type":"rule","color":"#d6d6d6","strokeWidth":2,"strokeDash":[9,7]},
     "encoding":{"y":{"field":"K","type":"quantitative","scale":{"domain":[0,2.5],"nice":false}}}},
    {"data":{"name":"model"},"transform":[{"filter":"datum.panel == 'h'"}],"mark":{"type":"line","color":"#1a1a1a","strokeWidth":2},
     "encoding":{"x":{"field":"day","type":"quantitative","scale":{"domain":[0,44],"nice":false,"zero":false}},"y":{"field":"fit","type":"quantitative","scale":{"domain":[0,2.5],"nice":false}}}},
    {"data":{"name":"obs"},"transform":[{"filter":"datum.panel == 'h'"}],"mark":{"type":"circle","size":64,"stroke":"#000","strokeWidth":0.8,"opacity":1},
     "encoding":{"x":{"field":"day","type":"quantitative","scale":{"domain":[0,44],"nice":false,"zero":false}},"y":{"field":"om","type":"quantitative","scale":{"domain":[0,2.5],"nice":false}},
      "fill":{"field":"rep","type":"nominal","scale":{"domain":["R","G","B"],"range":["#ee0a0a","#6cb02a","#414c9c"]},"legend":null}}}
   ]}
  ]},
{"width":941,"height":17,
 "layer":[
  {"data":{"values":[{}]},"mark":{"type":"rect","fill":{"gradient":"linear","x1":0,"y1":0,"x2":1,"y2":0,"stops":[{"offset":0,"color":"#ffffff"},{"offset":0.25,"color":"#dcd8d6"},{"offset":0.5,"color":"#a69a97"},{"offset":0.75,"color":"#6b5b59"},{"offset":1,"color":"#261616"}]},"stroke":"#000","strokeWidth":1},"encoding":{}},
  {"data":{"values":[{"transmission":"90%"},{"transmission":"65%"},{"transmission":"50%"},{"transmission":"27%"}]},"mark":{"type":"point","opacity":0},
   "encoding":{"x":{"field":"transmission","type":"nominal","sort":null,"scale":{"type":"point","padding":0.35},
     "axis":{"title":"transmission of incident light","labelAngle":0,"ticks":false,"domain":false,"labelFont":"Liberation Sans","labelFontSize":16,"labelPadding":2,"titleFont":"Liberation Sans","titleFontSize":18.5,"titlePadding":3,"labelColor":"#111","titleColor":"#111"}}}}
 ]}
]
}
